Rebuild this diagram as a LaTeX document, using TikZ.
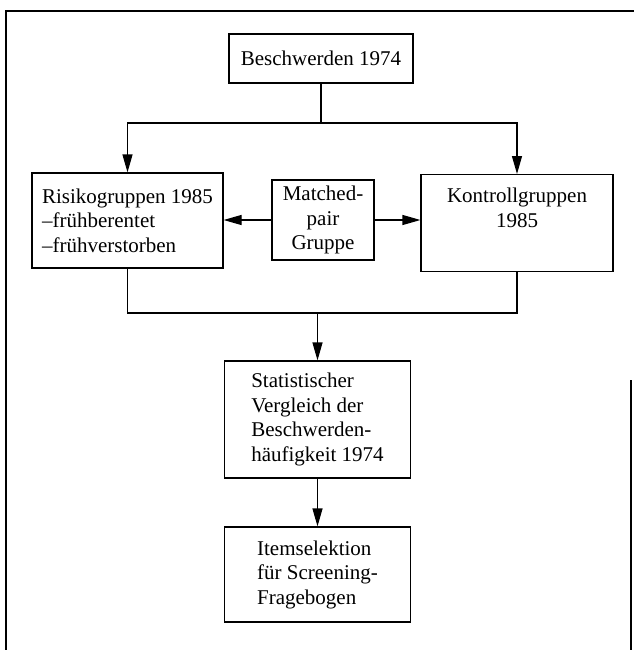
\documentclass[tikz,border=0pt]{standalone}
\usepackage{fontspec}
\setmainfont{Liberation Serif}
\usetikzlibrary{arrows.meta}
\begin{document}
\begin{tikzpicture}[x=1pt,y=-1pt,
  box/.style={draw, line width=1.2pt, inner xsep=4pt, inner ysep=4pt,
    font=\fontsize{21}{24.5}\selectfont},
  arr/.style={line width=1.2pt, -{Triangle[length=18pt,width=10pt]}},
  conn/.style={line width=1.2pt},
  frame/.style={line width=1.3pt}]
\useasboundingbox (0,0) rectangle (634,650);
% frame (scanned page border)
\draw[frame] (6,650) -- (6,11) -- (634,11);
\draw[frame] (631,380) -- (631,650);
% boxes
\node[box, minimum width=184pt, minimum height=49pt] (besch) at (321,58.5) {Beschwerden 1974};
\node[box, align=left, minimum width=191pt, minimum height=95pt] (risk) at (127.5,220.5)
  {Risikogruppen 1985\\–frühberentet\\–frühverstorben};
\node[box, align=center, minimum width=102pt, minimum height=80pt] (match) at (323,220)
  {Matched-\\pair\\Gruppe};
\node[box, align=center, minimum width=192pt, minimum height=96pt, inner ysep=13.7pt, text depth=30.3pt] (kon) at (517,223)
  {Kontrollgruppen\\1985};
\node[box, align=left, minimum width=186pt, minimum height=117pt] (stat) at (317.5,419.5)
  {Statistischer\\Vergleich der\\Beschwerden-\\häufigkeit 1974};
\node[box, align=left, minimum width=186pt, minimum height=95pt] (item) at (317.5,574.5)
  {Itemselektion\\für Screening-\\Fragebogen};
% junction levels
\coordinate (j1) at (0,123);
\coordinate (j2) at (0,313);
% connectors
\draw[conn] (besch.south) -- (besch.south |- j1);
\draw[arr] (besch.south |- j1) -| (risk.north);
\draw[arr] (besch.south |- j1) -| (kon.north);
\draw[arr] (match.west) -- (match.west -| risk.east);
\draw[arr] (match.east) -- (match.east -| kon.west);
\draw[conn] (risk.south) -- (risk.south |- j2) -- (kon.south |- j2) -- (kon.south);
\draw[arr] (stat.north |- j2) -- (stat.north);
\draw[arr] (stat.south) -- (item.north);
\end{tikzpicture}
\end{document}
